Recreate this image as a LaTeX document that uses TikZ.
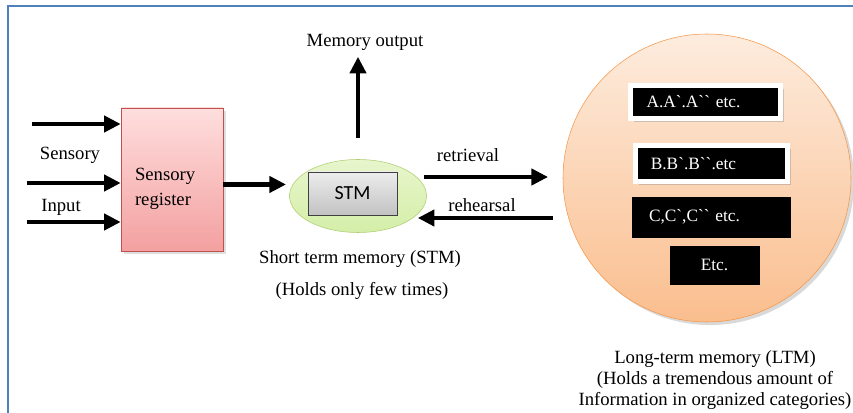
\documentclass[tikz,border=0pt]{standalone}
\usepackage{fontspec}
\setmainfont{Liberation Serif}
\newfontfamily\calfont{Carlito}
\usetikzlibrary{arrows.meta,shapes.geometric,shadows}

\definecolor{frameblue}{RGB}{79,129,189}
\definecolor{regtop}{RGB}{255,222,222}
\definecolor{regbot}{RGB}{243,160,160}
\definecolor{regline}{RGB}{192,80,77}
\definecolor{stmtop}{RGB}{232,246,204}
\definecolor{stmbot}{RGB}{212,238,168}
\definecolor{stmline}{RGB}{172,205,110}
\definecolor{ltmtop}{RGB}{253,236,222}
\definecolor{ltmbot}{RGB}{250,190,142}
\definecolor{ltmline}{RGB}{247,150,70}

\begin{document}
\begin{tikzpicture}[x=0.75pt,y=0.75pt,yscale=-1,xscale=1,
  arr/.style={line width=3.4pt,-{Triangle[length=12.5pt,width=12pt]}},
  lbl/.style={inner sep=0.75pt,font=\fontsize{14}{16}\selectfont},
  ltmbox/.style={fill=black,text=white,inner ysep=0pt,font=\fontsize{13}{15}\selectfont}]
\useasboundingbox (0,0) rectangle (853,413);
\clip (0,0) rectangle (853,413);

%Frame
\draw [color=frameblue,line width=1.5pt] (8,6) rectangle (900,460) ;

%Shape: Sensory register
\node (reg) [draw=regline,top color=regtop,bottom color=regbot,drop shadow={opacity=0.25},
  minimum width=76.5pt,minimum height=107.25pt] at (172,179.5) {};
\node (regtext) [inner xsep=0pt,text width=55.5pt,align=left,font=\fontsize{14}{18.75}\selectfont]
  at ([yshift=6.75pt]reg.center) {Sensory\\register};
%Shape: STM ellipse
\node (stm) [ellipse,draw=stmline,top color=stmtop,bottom color=stmbot,minimum width=102.75pt,minimum height=54.75pt,inner sep=0pt] at (358,196) {};
\node (stmbox) [draw=black!75,top color=black!7,bottom color=black!24,minimum width=66.75pt,minimum height=32.25pt,
  font=\calfont\fontsize{15}{18}\selectfont] at (352.5,193.5) {STM};
%Shape: LTM circle
\node (ltm) [circle,draw=ltmline,top color=ltmtop,bottom color=ltmbot,drop shadow={opacity=0.3},
  minimum size=216pt,inner sep=0pt] at (707,178) {};
\node (boxa) [ltmbox,draw=white,line width=3.75pt,drop shadow={opacity=0.35},minimum height=24.75pt,
  inner xsep=12pt,text width=88.5pt,align=left] at (705.5,102) {A.A\textasciigrave.A\textasciigrave\textasciigrave\ etc.};
\node (boxb) [ltmbox,draw=white,line width=3.75pt,drop shadow={opacity=0.35},minimum height=27pt,
  inner xsep=11.5pt,text width=91pt,align=left] at (711.5,163.5) {B.B\textasciigrave.B\textasciigrave\textasciigrave.etc};
\node (boxc) [ltmbox,draw=black,minimum height=30pt,
  inner xsep=12.75pt,text width=93pt,align=left] at (711,217) {C,C\textasciigrave,C\textasciigrave\textasciigrave\ etc.};
\node (boxd) [ltmbox,draw=black,minimum width=66.75pt,minimum height=28.5pt] at (714.5,265) {Etc.};

% Text Node
\node (sens) [lbl] at (70,155) {Sensory};
\node (inp) [lbl] at (61,207) {Input};
\node (mo) [lbl] at (365,42) {Memory output};
\node (retl) [lbl] at (468,155) {retrieval};
\node (rehl) [lbl] at (482,205) {rehearsal};
\node (stmname) [lbl] at (360,259) {Short term memory (STM)};
\node (stmhold) [lbl] at (362,291) {(Holds only few times)};
\node (ltmname) [lbl,align=center,font=\fontsize{14}{15.75}\selectfont] at (715,380)
  {Long-term memory (LTM)\\(Holds a tremendous amount of\\Information in organized categories)};

%Straight Lines
\coordinate (in1) at (32,124);
\coordinate (in2) at (27,183);
\coordinate (in3) at (27,222);
\coordinate (ret) at (0,177);
\coordinate (reh) at (0,218);
\draw [arr] (in1) -- (reg.west |- in1) ;
\draw [arr] (in2) -- (reg.west |- in2) ;
\draw [arr] (in3) -- (reg.west |- in3) ;
\draw [arr,shorten >=5pt] (reg.east |- stm.170) -- (stm.170) ;
\draw [arr,shorten <=16pt,shorten >=4pt] (stm.north) -- (stm.north |- mo.south) ;
\draw [arr,shorten <=-2pt,shorten >=11pt] (stm.east |- ret) -- (ltm.west |- ret) ;
\draw [arr,shorten <=7.5pt,shorten >=-6.75pt] (ltm.west |- reh) -- (stm.east |- reh) ;

\end{tikzpicture}
\end{document}
